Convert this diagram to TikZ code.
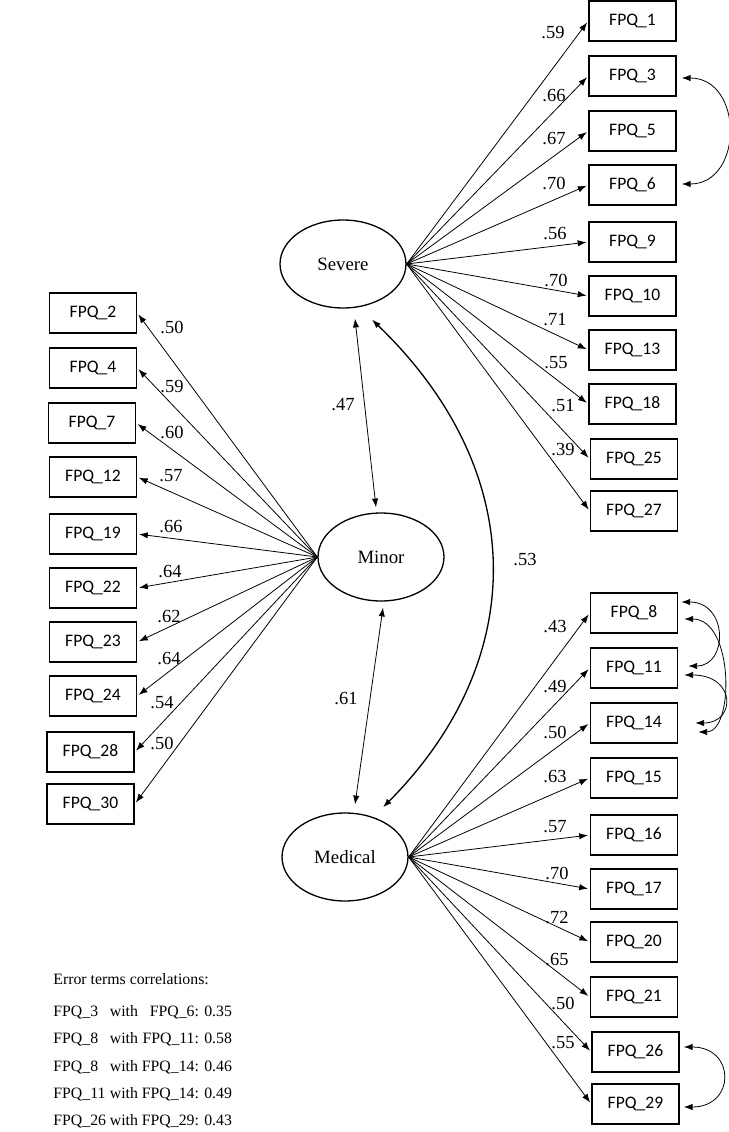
\documentclass[tikz,border=0pt]{standalone}
\usepackage{fontspec}
\setmainfont{Liberation Serif}
\newfontfamily\boxfont{Carlito}
\usepackage{tikz}
\usetikzlibrary{calc}
\usetikzlibrary{shapes}
\usetikzlibrary{arrows.meta}

\begin{document}
\begin{tikzpicture}[x=0.02cm,y=-0.02cm,
    >={Latex[length=5pt,width=3.6pt]},
    item/.style={draw,line width=0.9pt,minimum width=1.74cm,minimum height=0.8cm,inner sep=0pt,font=\boxfont\fontsize{10}{12}\selectfont},
    factor/.style={draw,ellipse,line width=0.75pt,minimum width=2.52cm,minimum height=1.76cm,inner sep=0pt,font=\fontsize{10.7}{12}\selectfont},
    load/.style={->,line width=0.45pt,shorten >=1pt},
    cov/.style={<->,line width=0.45pt},
    wt/.style={inner sep=0pt,font=\fontsize{10.5}{12}\selectfont}]
    \useasboundingbox (0,0) rectangle (729,1132);
    \draw[] (343,264) node[factor] (Sev) {Severe};
    \draw[] (381,557) node[factor] (Min) {Minor};
    \draw[] (345,857) node[factor] (Med) {Medical};
    \draw[] (632.5,21) node[item] (Q1) {FPQ\_1};
    \draw[] (632.5,76) node[item] (Q3) {FPQ\_3};
    \draw[] (632.5,131) node[item] (Q5) {FPQ\_5};
    \draw[] (632.5,185) node[item] (Q6) {FPQ\_6};
    \draw[] (632.5,242) node[item] (Q9) {FPQ\_9};
    \draw[] (632.5,296) node[item] (Q10) {FPQ\_10};
    \draw[] (632.5,350) node[item] (Q13) {FPQ\_13};
    \draw[] (632.5,404) node[item] (Q18) {FPQ\_18};
    \draw[] (634,459) node[item] (Q25) {FPQ\_25};
    \draw[] (634,511) node[item] (Q27) {FPQ\_27};
    \draw[] (93,313) node[item] (Q2) {FPQ\_2};
    \draw[] (93,368) node[item] (Q4) {FPQ\_4};
    \draw[] (92,423) node[item] (Q7) {FPQ\_7};
    \draw[] (93,477) node[item] (Q12) {FPQ\_12};
    \draw[] (93,534) node[item] (Q19) {FPQ\_19};
    \draw[] (93,588) node[item] (Q22) {FPQ\_22};
    \draw[] (93,642) node[item] (Q23) {FPQ\_23};
    \draw[] (93,696) node[item] (Q24) {FPQ\_24};
    \draw[] (90.5,752) node[item] (Q28) {FPQ\_28};
    \draw[] (90.5,804) node[item] (Q30) {FPQ\_30};
    \draw[] (634,613) node[item] (Q8) {FPQ\_8};
    \draw[] (634,668) node[item] (Q11) {FPQ\_11};
    \draw[] (634,723) node[item] (Q14) {FPQ\_14};
    \draw[] (634,778) node[item] (Q15) {FPQ\_15};
    \draw[] (634,835) node[item] (Q16) {FPQ\_16};
    \draw[] (634,889) node[item] (Q17) {FPQ\_17};
    \draw[] (634,942) node[item] (Q20) {FPQ\_20};
    \draw[] (634,997) node[item] (Q21) {FPQ\_21};
    \draw[] (635.5,1052) node[item] (Q26) {FPQ\_26};
    \draw[] (635.5,1104) node[item] (Q29) {FPQ\_29};
    \draw[load] (Sev.east) -- (Q1.west) node[wt] at (553,33) {.59};
    \draw[load] (Sev.east) -- (Q3.west) node[wt] at (554,96) {.66};
    \draw[load] (Sev.east) -- (Q5.west) node[wt] at (554,139) {.67};
    \draw[load] (Sev.east) -- (Q6.west) node[wt] at (554,183) {.70};
    \draw[load] (Sev.east) -- (Q9.west) node[wt] at (555,234) {.56};
    \draw[load] (Sev.east) -- (Q10.west) node[wt] at (556,280) {.70};
    \draw[load] (Sev.east) -- (Q13.west) node[wt] at (555,320) {.71};
    \draw[load] (Sev.east) -- (Q18.west) node[wt] at (556,363) {.55};
    \draw[load] (Sev.east) -- (Q25.west) node[wt] at (563,406) {.51};
    \draw[load] (Sev.east) -- (Q27.west) node[wt] at (563,450) {.39};
    \draw[load] (Min.west) -- (Q2.east) node[wt] at (172,327) {.50};
    \draw[load] (Min.west) -- (Q4.east) node[wt] at (172,387) {.59};
    \draw[load] (Min.west) -- (Q7.east) node[wt] at (172,432) {.60};
    \draw[load] (Min.west) -- (Q12.east) node[wt] at (171,476) {.57};
    \draw[load] (Min.west) -- (Q19.east) node[wt] at (171,527) {.66};
    \draw[load] (Min.west) -- (Q22.east) node[wt] at (170,572) {.64};
    \draw[load] (Min.west) -- (Q23.east) node[wt] at (169,617) {.62};
    \draw[load] (Min.west) -- (Q24.east) node[wt] at (169,659) {.64};
    \draw[load] (Min.west) -- (Q28.east) node[wt] at (162,703) {.54};
    \draw[load] (Min.west) -- (Q30.east) node[wt] at (162,743) {.50};
    \draw[load] (Med.east) -- (Q8.west) node[wt] at (555,627) {.43};
    \draw[load] (Med.east) -- (Q11.west) node[wt] at (555,687) {.49};
    \draw[load] (Med.east) -- (Q14.west) node[wt] at (555,732) {.50};
    \draw[load] (Med.east) -- (Q15.west) node[wt] at (555,777) {.63};
    \draw[load] (Med.east) -- (Q16.west) node[wt] at (555,827) {.57};
    \draw[load] (Med.east) -- (Q17.west) node[wt] at (557,873) {.70};
    \draw[load] (Med.east) -- (Q20.west) node[wt] at (557,918) {.72};
    \draw[load] (Med.east) -- (Q21.west) node[wt] at (557,960) {.65};
    \draw[load] (Med.east) -- (Q26.west) node[wt] at (563,1003) {.50};
    \draw[load] (Med.east) -- (Q29.west) node[wt] at (563,1043) {.55};
    \draw[cov] ($(Sev.south)+(12,10)$) -- ($(Min.north)+(-5,-5)$) node[wt] at (343,405) {.47};
    \draw[cov] ($(Min.south)+(2,6)$) -- ($(Med.north)+(10,-8)$) node[wt] at (346,699) {.61};
    \draw[cov,line width=0.75pt] ($(Sev.south)+(29,11)$) .. controls +(158,152) and +(147,-148) .. ($(Med.north)+(38,-5)$) node[wt] at (525,560) {.53};
    \draw[cov] ($(Q3.east)+(5,2)$) .. controls +(62,0) and +(62,0) .. ($(Q6.east)+(5,-1)$);
    \draw[cov] ($(Q8.east)+(3,-11)$) .. controls +(47,0) and +(40,0) .. ($(Q11.east)+(10,-2)$);
    \draw[cov] ($(Q8.east)+(6,6)$) .. controls +(50,0) and +(36,0) .. ($(Q14.east)+(20,9)$);
    \draw[cov] ($(Q11.east)+(6,7)$) .. controls +(52,0) and +(41,0) .. ($(Q14.east)+(17,0)$);
    \draw[cov] ($(Q26.east)+(4,-5)$) .. controls +(52,0) and +(52,0) .. ($(Q29.east)+(4,3)$);
    \draw[] (53,965) node[anchor=north west,inner sep=0pt,font=\fontsize{9}{15.5}\selectfont] (ErrTab) {%
      \begin{tabular}{@{}l@{\hspace{2.2pt}}l@{\hspace{2.2pt}}r@{}}
        \multicolumn{3}{@{}l@{}}{Error terms correlations:}\\[2.8pt]
        FPQ\_3 & with & FPQ\_6: 0.35\\
        FPQ\_8 & with & FPQ\_11: 0.58\\
        FPQ\_8 & with & FPQ\_14: 0.46\\
        FPQ\_11 & with & FPQ\_14: 0.49\\
        FPQ\_26 & with & FPQ\_29: 0.43
      \end{tabular}};
  \end{tikzpicture}
\end{document}
